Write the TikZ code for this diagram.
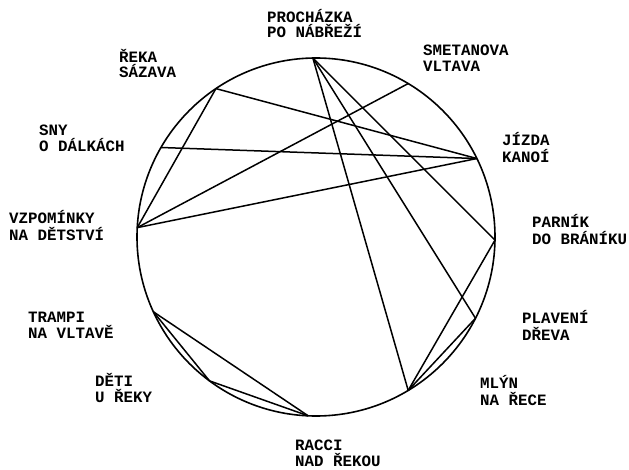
\documentclass[tikz,border=0pt]{standalone}
\usepackage{fontspec}
\usetikzlibrary{calc}
\newfontfamily\lblfont{Liberation Mono}[BoldFont={* Bold}]
\begin{document}
\begin{tikzpicture}[x=1pt,y=1pt,
  lbl/.style={anchor=base west,inner sep=0pt,font=\lblfont\bfseries\fontsize{15.8}{16}\selectfont},
  rim/.style={line width=1.6pt},
  chord/.style={line width=1.5pt}]
\useasboundingbox (0,0) rectangle (629,469);
\coordinate (c) at (316,232);
\def\R{179}
\draw[rim] (c) circle (\R);
% points on the circle
\coordinate (proch) at ($(c)+(91:\R)$);
\coordinate (smet) at ($(c)+(59:\R)$);
\coordinate (jizda) at ($(c)+(26:\R)$);
\coordinate (parnik) at ($(c)+(-1:\R)$);
\coordinate (plav) at ($(c)+(-27:\R)$);
\coordinate (mlyn) at ($(c)+(-59:\R)$);
\coordinate (racci) at ($(c)+(-92.5:\R)$);
\coordinate (deti) at ($(c)+(-126.5:\R)$);
\coordinate (trampi) at ($(c)+(204.7:\R)$);
\coordinate (vzpom) at ($(c)+(177:\R)$);
\coordinate (sny) at ($(c)+(150:\R)$);
\coordinate (sazava) at ($(c)+(124:\R)$);
% chords
\draw[chord] (sazava) -- (jizda);
\draw[chord] (sazava) -- (vzpom);
\draw[chord] (sny) -- (jizda);
\draw[chord] (vzpom) -- (smet);
\draw[chord] (vzpom) -- (jizda);
\draw[chord] (proch) -- (parnik);
\draw[chord] (proch) -- (plav);
\draw[chord] (proch) -- (mlyn);
\draw[chord] (parnik) -- (mlyn);
\draw[chord] (plav) -- (mlyn);
\draw[chord] (trampi) -- (deti);
\draw[chord] (trampi) -- (racci);
\draw[chord] (deti) -- (racci);
% labels
\node[lbl] (lprochA) at (267,446) {PROCHÁZKA};
\node[lbl] (lprochB) at (267,431) {PO NÁBŘEŽÍ};
\node[lbl] (lsmetA) at (423,413) {SMETANOVA};
\node[lbl] (lsmetB) at (423,397.5) {VLTAVA};
\node[lbl] (ljizdaA) at (502,323.5) {JÍZDA};
\node[lbl] (ljizdaB) at (502,306.5) {KANOÍ};
\node[lbl] (lparnikA) at (532,241) {PARNÍK};
\node[lbl] (lparnikB) at (532,224) {DO BRÁNÍKU};
\node[lbl] (lplavA) at (522,146) {PLAVENÍ};
\node[lbl] (lplavB) at (522,129) {DŘEVA};
\node[lbl] (lmlynA) at (480,81) {MLÝN};
\node[lbl] (lmlynB) at (480,64) {NA ŘECE};
\node[lbl] (lracciA) at (295,18.5) {RACCI};
\node[lbl] (lracciB) at (295,3) {NAD ŘEKOU};
\node[lbl] (ldetiA) at (95,83) {DĚTI};
\node[lbl] (ldetiB) at (95,67) {U ŘEKY};
\node[lbl] (ltrampiA) at (28,147) {TRAMPI};
\node[lbl] (ltrampiB) at (28,131) {NA VLTAVĚ};
\node[lbl] (lvzpomA) at (9,245) {VZPOMÍNKY};
\node[lbl] (lvzpomB) at (9,228) {NA DĚTSTVÍ};
\node[lbl] (lsnyA) at (39,333) {SNY};
\node[lbl] (lsnyB) at (39,317) {O DÁLKÁCH};
\node[lbl] (lsazavaA) at (119,406) {ŘEKA};
\node[lbl] (lsazavaB) at (119,391) {SÁZAVA};
\end{tikzpicture}
\end{document}
